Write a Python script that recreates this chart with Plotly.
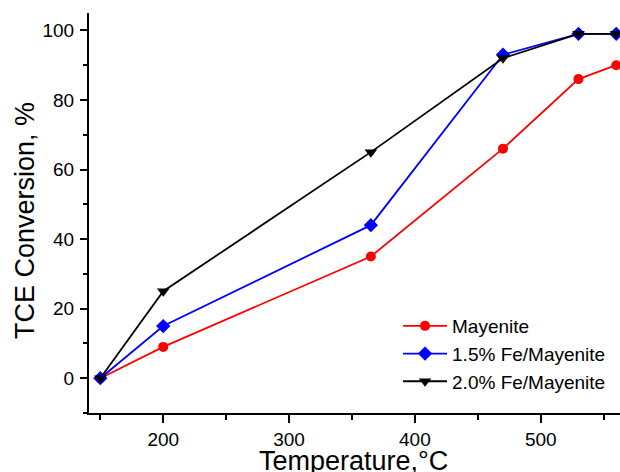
import plotly.graph_objects as go

temps = [150, 200, 365, 470, 530, 560]
mayenite = [0, 9, 35, 66, 86, 90]
fe15 = [0, 15, 44, 93, 99, 99]
fe20 = [0, 25, 65, 92, 99, 99]
names = ["Mayenite", "1.5% Fe/Mayenite", "2.0% Fe/Mayenite"]

fig = go.Figure()
fig.add_trace(go.Scatter(x=temps, y=mayenite, name=names[0], mode="lines+markers",
                         line=dict(color="#ff0000", width=1.8),
                         marker=dict(symbol="circle", size=10, color="#ff0000")))
fig.add_trace(go.Scatter(x=temps, y=fe15, name=names[1], mode="lines+markers",
                         line=dict(color="#0000ff", width=1.8),
                         marker=dict(symbol="diamond", size=11, color="#0000ff")))
fig.add_trace(go.Scatter(x=temps, y=fe20, name=names[2], mode="lines+markers",
                         line=dict(color="#000000", width=1.8),
                         marker=dict(symbol="triangle-down", size=11, color="#000000")))

font_family = "Liberation Sans, Arial, sans-serif"
fig.update_layout(
    width=620, height=472,
    margin=dict(l=89, r=0, t=13, b=59),
    paper_bgcolor="white", plot_bgcolor="white",
    font=dict(family=font_family, color="black", size=19),
    legend=dict(x=0.582, y=0.265, xanchor="left", yanchor="top",
                font=dict(size=19, family=font_family), bgcolor="rgba(0,0,0,0)",
                tracegroupgap=0, itemwidth=44),
    xaxis=dict(range=[141, 563], tick0=200, dtick=100, showgrid=False, zeroline=False,
               showline=True, linecolor="black", linewidth=2, automargin=False,
               ticks="outside", ticklen=8, tickwidth=1.5, tickcolor="black",
               tickfont=dict(size=19), ticklabelstandoff=0,
               minor=dict(ticks="outside", ticklen=5, tickwidth=1.5, tickcolor="black", dtick=50, tick0=150, showgrid=False)),
    yaxis=dict(range=[-10, 105], tick0=0, dtick=20, showgrid=False, zeroline=False,
               showline=True, linecolor="black", linewidth=2, automargin=False,
               ticks="outside", ticklen=7, tickwidth=1.5, tickcolor="black",
               tickfont=dict(size=19), ticklabelstandoff=2,
               minor=dict(ticks="outside", ticklen=4, tickwidth=1.5, tickcolor="black", dtick=10, tick0=10, showgrid=False)),
    annotations=[
        dict(text="Temperature,°C", xref="paper", yref="paper", x=0.498, y=-0.12,
             xanchor="center", yanchor="middle", showarrow=False, font=dict(size=27)),
        dict(text="TCE Conversion, %", xref="paper", yref="paper", x=-0.1205, y=0.48,
             xanchor="center", yanchor="middle", showarrow=False, textangle=-90, font=dict(size=27)),
    ],
)
fig.write_html("out.html", config={"displayModeBar": False},
               post_script="document.body.style.margin='0';document.body.style.overflow='hidden';")
